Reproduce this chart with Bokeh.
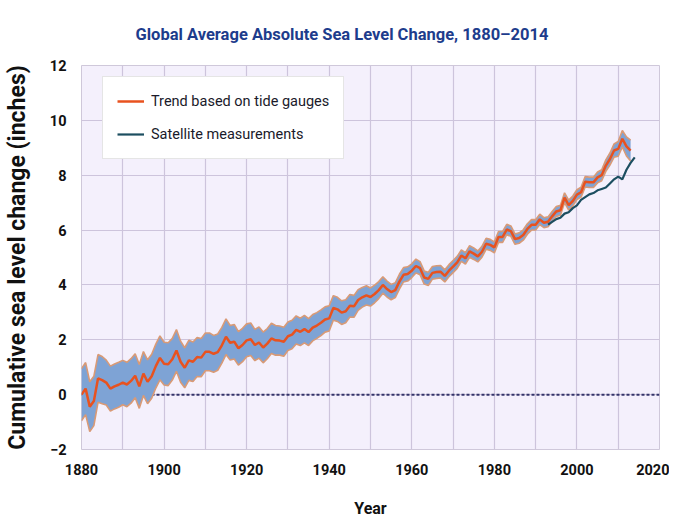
from bokeh.plotting import figure
from bokeh.models import Range1d, FixedTicker, ColumnDataSource, Legend, LegendItem, Span
from bokeh.embed import file_html
from bokeh.resources import INLINE

# ---------------- data ----------------
tide_years = list(range(1880, 2014))
tide_level = [
    0.00, 0.22, -0.44, -0.23, 0.59, 0.53, 0.44, 0.22, 0.30, 0.36,   # 1880s
    0.44, 0.37, 0.50, 0.69, 0.30, 0.77, 0.47, 0.67, 1.04, 1.34,     # 1890s
    1.13, 1.11, 1.29, 1.61, 1.20, 0.98, 1.25, 1.20, 1.37, 1.35,     # 1900s
    1.56, 1.56, 1.49, 1.55, 1.80, 2.11, 1.89, 1.93, 1.69, 1.81,     # 1910s
    1.98, 2.02, 1.81, 1.90, 1.72, 1.86, 2.05, 1.98, 1.97, 1.93,     # 1920s
    2.13, 2.19, 2.36, 2.29, 2.39, 2.28, 2.44, 2.52, 2.62, 2.74,     # 1930s
    2.78, 3.16, 3.11, 2.99, 3.04, 3.24, 3.22, 3.45, 3.55, 3.62,     # 1940s
    3.56, 3.67, 3.81, 4.00, 3.85, 3.74, 3.81, 4.12, 4.37, 4.40,     # 1950s
    4.52, 4.69, 4.61, 4.27, 4.22, 4.44, 4.47, 4.48, 4.33, 4.52,     # 1960s
    4.67, 4.82, 5.07, 4.97, 5.22, 5.14, 5.04, 5.21, 5.50, 5.46,     # 1970s
    5.37, 5.75, 5.75, 6.02, 5.96, 5.67, 5.71, 5.82, 6.04, 6.19,     # 1980s
    6.19, 6.39, 6.27, 6.30, 6.50, 6.68, 6.72, 7.18, 6.91, 7.06,     # 1990s
    7.29, 7.38, 7.76, 7.74, 7.74, 7.92, 8.00, 8.35, 8.59, 8.90,     # 2000s
    8.96, 9.33, 9.05, 8.90,                                         # 2010s
]
tide_error = [
    0.95, 0.95, 0.91, 0.90, 0.87, 0.86, 0.82, 0.82, 0.82, 0.82,
    0.81, 0.81, 0.81, 0.80, 0.80, 0.80, 0.80, 0.80, 0.80, 0.80,
    0.78, 0.78, 0.76, 0.76, 0.75, 0.73, 0.73, 0.72, 0.71, 0.70,
    0.69, 0.69, 0.67, 0.66, 0.65, 0.65, 0.63, 0.63, 0.61, 0.61,
    0.60, 0.59, 0.57, 0.57, 0.56, 0.55, 0.55, 0.54, 0.53, 0.53,
    0.52, 0.52, 0.51, 0.50, 0.50, 0.49, 0.48, 0.47, 0.47, 0.46,
    0.46, 0.45, 0.44, 0.43, 0.42, 0.41, 0.40, 0.38, 0.36, 0.35,
    0.33, 0.32, 0.31, 0.30, 0.29, 0.28, 0.27, 0.27, 0.26, 0.26,
    0.25, 0.25, 0.24, 0.24, 0.24, 0.23, 0.23, 0.23, 0.22, 0.22,
    0.22, 0.22, 0.21, 0.21, 0.21, 0.21, 0.20, 0.20, 0.20, 0.20,
    0.20, 0.20, 0.20, 0.19, 0.19, 0.19, 0.19, 0.19, 0.19, 0.19,
    0.19, 0.19, 0.18, 0.18, 0.18, 0.18, 0.18, 0.18, 0.18, 0.18,
    0.18, 0.18, 0.19, 0.19, 0.19, 0.20, 0.20, 0.21, 0.22, 0.24,
    0.27, 0.30, 0.35, 0.38,
]
sat_years = list(range(1993, 2015))
sat_level = [6.20, 6.30, 6.40, 6.45, 6.60, 6.65, 6.80, 6.90, 7.10, 7.20, 7.30,
             7.35, 7.45, 7.50, 7.55, 7.70, 7.85, 7.95, 7.85, 8.20, 8.45, 8.65]

x_ticks = [1880, 1900, 1920, 1940, 1960, 1980, 2000, 2020]
x_grid = [1880, 1890, 1900, 1910, 1920, 1930, 1940, 1950, 1960, 1970,
          1980, 1990, 2000, 2010, 2020]
y_ticks = [-2, 0, 2, 4, 6, 8, 10, 12]

title_text = "Global Average Absolute Sea Level Change, 1880\u20132014"
y_label = "Cumulative sea level change (inches)"
x_label = "Year"
legend_labels = ["Trend based on tide gauges", "Satellite measurements"]

# ---------------- chart ----------------
FONT = "Roboto"
src = ColumnDataSource(dict(
    year=tide_years,
    level=tide_level,
    lower=[v - e for v, e in zip(tide_level, tide_error)],
    upper=[v + e for v, e in zip(tide_level, tide_error)],
))
sat_src = ColumnDataSource(dict(year=sat_years, level=sat_level))

p = figure(width=669, height=520, output_backend="svg", toolbar_location=None,
           x_range=Range1d(1880, 2020), y_range=Range1d(-2, 12),
           min_border_left=79, min_border_right=10, min_border_top=65,
           min_border_bottom=70,
           background_fill_color="#f4f0fc", border_fill_color="white")

p.title.text = title_text
p.title.align = "left"
p.title.offset = 54
p.title.text_font = FONT
p.title.text_font_style = "bold"
p.title.text_font_size = "16.5px"
p.title.text_color = "#1d3c8c"
p.title.standoff = 43

p.outline_line_color = "#cfc8da"

# grid
p.xgrid.ticker = FixedTicker(ticks=x_grid)
p.ygrid.ticker = FixedTicker(ticks=y_ticks)
for g in (p.xgrid, p.ygrid):
    g.grid_line_color = "#cdc4dc"
    g.grid_line_width = 1.2

# axes
p.xaxis.ticker = FixedTicker(ticks=x_ticks)
p.yaxis.ticker = FixedTicker(ticks=y_ticks)
for ax in (p.xaxis, p.yaxis):
    ax.axis_line_color = None
    ax.major_tick_line_color = None
    ax.minor_tick_line_color = None
    ax.major_label_text_font = FONT
    ax.major_label_text_font_style = "bold"
    ax.major_label_text_font_size = "14.5px"
    ax.major_label_text_color = "#111111"
    ax.axis_label_text_font = FONT
    ax.axis_label_text_font_style = "bold"
    ax.axis_label_text_color = "#111111"
p.xaxis.axis_label = x_label
p.yaxis.axis_label = y_label
p.xaxis.axis_label_text_font_size = "16px"
p.yaxis.axis_label_text_font_size = "23px"
p.xaxis.major_label_standoff = 8
p.yaxis.major_label_standoff = 9
p.xaxis.axis_label_standoff = 21
p.yaxis.axis_label_standoff = 16

# zero reference
zero = Span(location=0, dimension="width", line_color="#34346a",
            line_dash="3 2", line_width=2, level="underlay")
p.add_layout(zero)

# uncertainty band
p.varea(x="year", y1="lower", y2="upper", source=src, fill_color="#7ea3d5")
p.line(x="year", y="upper", source=src, line_color="#d99a76", line_width=1.6)
p.line(x="year", y="lower", source=src, line_color="#d99a76", line_width=1.6)

tide_r = p.line(x="year", y="level", source=src, line_color="#e8521f",
                line_width=2.5)
sat_r = p.line(x="year", y="level", source=sat_src, line_color="#1c4e60",
               line_width=2.2)

legend = Legend(items=[LegendItem(label=legend_labels[0], renderers=[tide_r]),
                       LegendItem(label=legend_labels[1], renderers=[sat_r])],
                location=(21, 290))
legend.label_text_font = FONT
legend.label_text_font_size = "14.5px"
legend.label_text_color = "#1a1a2a"
legend.glyph_width = 27
legend.glyph_height = 20
legend.label_height = 20
legend.label_standoff = 7
legend.spacing = 13
legend.padding = 14
legend.border_line_color = "#cccccc"
legend.background_fill_color = "white"
legend.background_fill_alpha = 1.0
p.add_layout(legend)

open("out.html", "w").write(file_html(p, INLINE))
